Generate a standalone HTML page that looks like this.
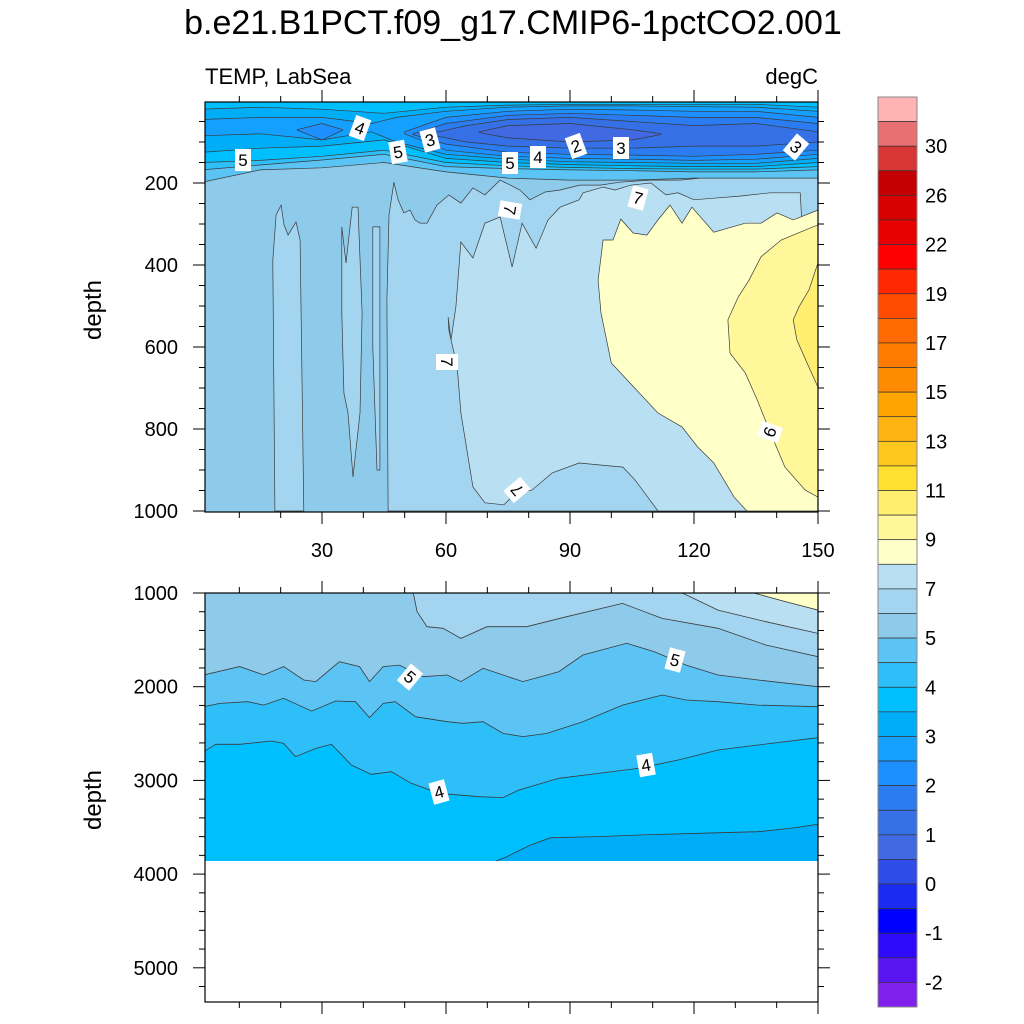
<!DOCTYPE html>
<html><head><meta charset="utf-8"><style>
html,body{margin:0;padding:0;background:#fff}
svg{display:block;font-family:"Liberation Sans",Arial,sans-serif}
</style></head><body>
<svg id="chart" width="1024" height="1024" viewBox="0 0 1024 1024" xmlns="http://www.w3.org/2000/svg">
<defs>
<clipPath id="clipTop"><rect x="205" y="102" width="613" height="410"/></clipPath>
<clipPath id="clipBot"><rect x="205" y="593" width="613" height="268"/></clipPath>
</defs>
<text x="513" y="34" text-anchor="middle" font-size="34">b.e21.B1PCT.f09_g17.CMIP6-1pctCO2.001</text>
<text x="205" y="84" font-size="22">TEMP, LabSea</text>
<text x="818" y="84" font-size="22" text-anchor="end">degC</text>
<text transform="translate(101,310) rotate(-90)" text-anchor="middle" font-size="24">depth</text>
<text transform="translate(101,800) rotate(-90)" text-anchor="middle" font-size="24">depth</text>
<g id="topPlot" clip-path="url(#clipTop)"></g>
<g id="botPlot" clip-path="url(#clipBot)"></g>
<g id="axes"></g>
<g id="labels"></g>
<g id="cbar"></g>
</svg>
<script>
// ---------- data ----------
const surfYears=[1,15,30,45,60,75,90,105,120,135,150];
const iso5Bottom=[198,168,163,150,173,188,193,193,188,188,188];
const iso45Bottom=[168,156,144,130,160,165,168,170,173,173,168];
const iso4Bottom=[150,145,135,120,150,158,162,165,166,166,160];
const iso35Top=[20,15,20,30,15,10,8,8,8,8,15];
const iso35Bottom=[125,115,110,95,140,150,155,158,160,160,150];
const iso3Years=[1,15,30,42,48,60,75,90,105,120,135,150];
const iso3Top=[45,40,40,55,40,25,15,12,12,14,15,25];
const iso3Bottom=[85,80,95,75,100,130,142,148,150,152,152,140];
const iso25aYears=[24,30,35];
const iso25aTop=[70,55,70];
const iso25aBottom=[71,95,71];
const iso25Years=[50,60,75,90,105,120,135,150];
const iso25Top=[75,40,25,20,22,25,25,40];
const iso25Bottom=[80,120,135,140,142,145,142,130];
const iso2Years=[52,60,75,90,105,120,135,150];
const iso2Top=[80,55,35,30,35,40,40,55];
const iso2Bottom=[82,105,125,130,132,135,130,120];
const iso15Years=[56,65,75,90,105,120,135,150];
const iso15Top=[80,60,45,40,50,60,55,75];
const iso15Bottom=[82,100,110,115,115,110,110,100];
const iso1Years=[68,75,90,105,112];
const iso1Top=[75,60,55,70,80];
const iso1Bottom=[77,90,100,95,82];

const strip1Years=[18.6,18.1,18.9,20.1,20.8,21.8,22.5,23.7,24.7,25.6];
const strip1Depths=[1000,388,278,254,302,327,315,295,339,1000];
const strip2Years=[34.8,35.8,37.3,38.7,39.7,39.2,37.5,36.3,35.3,34.8];
const strip2Depths=[307,395,259,259,517,761,917,761,712,517];
const strip3Years=[42.3,44,44,43.3,42.3];
const strip3Depths=[307,307,900,900,600];
const band6Years=[46,45.7,46.2,47.4,48.4,49.8,51.3,52.5,53.7,55.4,57.8,60.7,63.6,66.5,69.4,73.1,77.9,80.3,84,87.6,92.4,97.3,102.1,109.4,116.6,121.5,128.7,136,143.2,150,150];
const band6Depths=[1000,485,278,198,241,273,266,290,298,298,254,229,249,212,229,193,217,241,222,217,205,205,198,193,193,188,185,183,180,176,1000];
const band7Years=[111.3,105.7,102.8,92.2,85.7,80.8,76.9,74,69.4,66.5,63.6,62.7,60.7,60.5,61.2,62.4,63.6,66.5,69.4,73.1,76,78.4,81.8,84.7,87.6,92.2,93.2,98,100.9,104.8,109.6,113.2,116.1,120,124.8,131.1,138.4,145.7,150,150];
const band7Depths=[1000,924,893,883,907,949,956,985,980,941,761,649,559,527,583,502,344,383,298,283,405,298,359,290,259,241,224,210,217,205,200,229,224,241,237,232,224,224,1000,1000];
const band8Years=[150,144,140.1,136.2,132.4,124.8,119.5,117.1,114.2,111.3,108.6,105.3,102.3,100.4,98,96.8,97.5,100,103.8,111.3,117.1,120.9,124.8,129.7,132.8,150];
const band8Depths=[266,290,273,298,298,320,259,298,254,290,327,322,288,339,339,437,517,639,680,761,795,844,883,966,1000,1000];
const band9Years=[150,141.1,136.2,133.3,130.7,128.2,128.7,132.4,135.3,138.2,142,146.9,150];
const band9Depths=[302,339,380,437,478,534,615,663,729,802,893,949,966];
const band10Years=[150,147.8,145.4,144,144.9,147.8,150];
const band10Depths=[395,461,502,534,583,649,698];

const c6Years=[52.1,53,55.4,59.3,63.6,69.9,79.5,89.2,102.7,112.3,125.8,137.4,150];
const c6Depths=[1000,1200,1360,1377,1484,1360,1360,1253,1111,1271,1377,1555,1680];
const c7Years=[117.2,125.8,137.4,150];
const c7Depths=[1000,1182,1306,1431];
const c8Years=[134.5,142.2,150];
const c8Depths=[1000,1093,1182];
const c5Years=[1.4,10.1,15.9,20.7,25.6,28.5,34.2,39.1,41.5,44.8,48.7,54.5,60.3,63.6,69,73.8,78.6,87.3,93.1,103.7,110.4,118.1,125.8,135.5,150];
const c5Depths=[1875,1786,1875,1786,1929,1946,1733,1786,1946,1786,1769,1893,1875,1946,1804,1875,1946,1840,1662,1537,1626,1769,1875,1929,2000];
const c45Years=[1.4,5.3,12,15.9,20.7,27.5,33.3,38.1,41.5,44.8,47.7,52.6,60.3,64.1,69,73.8,78.6,84.4,93.1,102.7,112.3,118.1,125.8,135.5,150];
const c45Depths=[2213,2178,2160,2196,2124,2260,2153,2160,2331,2178,2160,2320,2373,2391,2373,2498,2533,2498,2373,2196,2089,2142,2160,2196,2213];
const c4Years=[1.4,4.3,10.1,17.8,20.7,23.6,28.5,32.3,37.1,41.9,46.8,51.6,58.3,68,73.8,77.6,87.3,96.9,106.6,116.2,125.8,135.5,150];
const c4Depths=[2694,2615,2615,2580,2605,2747,2658,2615,2836,2935,2907,3031,3138,3174,3184,3103,2978,2925,2871,2782,2676,2622,2544];
const c35Years=[71.8,74.7,80.5,85.3,96.9,106.6,121,135.5,143.2,150];
const c35Depths=[3867,3814,3689,3611,3600,3583,3565,3547,3512,3469];

const cbarColors=["#ffb3b3","#e87070","#d83535","#c40000","#d80000","#e80000","#ff0000","#ff2800","#ff4c00","#ff6a00","#ff7c00","#ff8c00","#ffa500","#ffb414","#ffc81e","#ffe030","#ffee70","#fff79a","#ffffc8","#b9e0f2","#a3d5f0","#8ecbeb","#5cc4f5","#2ebef8","#00bfff","#00aef8","#14a0ff","#1e8fff","#2a7cf0","#3570e6","#4169e1","#2d4ce8","#1a2cf2","#0000ff","#2e0af8","#5a14f0","#8020ec"];
const cbarLabels=["30","26","22","19","17","15","13","11","9","7","5","4","3","2","1","0","-1","-2"];
const xTickLabels=[30,60,90,120,150];
const topDepthTicks=[200,400,600,800,1000];
const botDepthTicks=[1000,2000,3000,4000,5000];

// ---------- scales ----------
const NS="http://www.w3.org/2000/svg";
const xS=y=>198+y*4.1333;
const yT=d=>101+d*0.41;
const yB=d=>593+(d-1000)*0.0937;
const LINE="#3a3a3a";
function mk(tag,attrs,parent){const e=document.createElementNS(NS,tag);for(const k in attrs)e.setAttribute(k,attrs[k]);parent.appendChild(e);return e;}
function pts(xs,ds,ys){return xs.map((x,i)=>xS(x).toFixed(1)+","+ys(ds[i]).toFixed(1));}

const topG=document.getElementById('topPlot');
const botG=document.getElementById('botPlot');

// ---- top panel ----
let r=mk('rect',{x:205,y:102,width:613,height:410,fill:'#8ecbeb'},topG);


function poly(g,xs,ds,ys,fill,name){
  const p=mk('polygon',{points:pts(xs,ds,ys).join(' '),fill:fill,stroke:LINE,'stroke-width':0.7},g);
  
  
}
poly(topG,strip1Years,strip1Depths,yT,'#a3d5f0','band-6-7-strip-1');
poly(topG,strip2Years,strip2Depths,yT,'#a3d5f0','band-6-7-strip-2');
poly(topG,strip3Years,strip3Depths,yT,'#a3d5f0','band-6-7-strip-3');
poly(topG,band6Years,band6Depths,yT,'#a3d5f0','band-6-7');
poly(topG,band7Years,band7Depths,yT,'#b9e0f2','band-7-8');
poly(topG,band8Years,band8Depths,yT,'#ffffc8','band-8-9');
poly(topG,band9Years,band9Depths,yT,'#fff79a','band-9-10');
poly(topG,band10Years,band10Depths,yT,'#ffee70','band-10-11');
function lens(years,top,bot,fill,name){
  const a=pts(years,top,yT), b=pts(years,bot,yT).reverse();
  const p=mk('polygon',{points:a.concat(b).join(' '),fill:fill,stroke:LINE,'stroke-width':0.7},topG);
  
  
}
const zeros=surfYears.map(()=>-5);
lens(surfYears,zeros,iso5Bottom,'#5cc4f5','band-4.5-5');
lens(surfYears,zeros,iso45Bottom,'#2ebef8','band-4-4.5');
lens(surfYears,zeros,iso4Bottom,'#00bfff','band-3.5-4');
lens(surfYears,iso35Top,iso35Bottom,'#00aef8','band-3-3.5');
lens(iso3Years,iso3Top,iso3Bottom,'#14a0ff','band-2.5-3');
lens(iso25aYears,iso25aTop,iso25aBottom,'#1e8fff','band-2-2.5-west');
lens(iso25Years,iso25Top,iso25Bottom,'#1e8fff','band-2-2.5');
lens(iso2Years,iso2Top,iso2Bottom,'#2a7cf0','band-1.5-2');
lens(iso15Years,iso15Top,iso15Bottom,'#3570e6','band-1-1.5');
lens(iso1Years,iso1Top,iso1Bottom,'#4169e1','band-0.5-1');

// ---- bottom panel ----
r=mk('rect',{x:205,y:593,width:613,height:268,fill:'#a3d5f0'},botG);


function region(xs,ds,extra,fill,name){
  const p=pts(xs,ds,yB);
  const e=extra.map(q=>xS(q[0]).toFixed(1)+","+yB(q[1]).toFixed(1));
  const pg=mk('polygon',{points:p.concat(e).join(' '),fill:fill,stroke:'none'},botG);
  
  
  const pl=mk('polyline',{points:p.join(' '),fill:'none',stroke:LINE,'stroke-width':0.8},botG);
  
  
}
region(c7Years,c7Depths,[[152,1431],[152,990]],'#b9e0f2','band-7-8');
region(c8Years,c8Depths,[[152,1182],[152,990]],'#ffffc8','band-8-9');
const pre6=mk('polygon',{points:[[0,990],[c6Years[0],990]].map(q=>xS(q[0])+","+yB(q[1])).join(' ')+" "+pts(c6Years,c6Depths,yB).join(' ')+" "+xS(152)+","+yB(3900)+" "+xS(0)+","+yB(3900),fill:'#8ecbeb'},botG);


let l6=mk('polyline',{points:pts(c6Years,c6Depths,yB).join(' '),fill:'none',stroke:LINE,'stroke-width':0.8},botG);


region(c5Years,c5Depths,[[152,c5Depths[c5Depths.length-1]],[152,3900],[0,3900],[0,c5Depths[0]]],'#5cc4f5','band-4.5-5');
region(c45Years,c45Depths,[[152,c45Depths[c45Depths.length-1]],[152,3900],[0,3900],[0,c45Depths[0]]],'#2ebef8','band-4-4.5');
region(c4Years,c4Depths,[[152,c4Depths[c4Depths.length-1]],[152,3900],[0,3900],[0,c4Depths[0]]],'#00bfff','band-3.5-4');
region(c35Years,c35Depths,[[152,c35Depths[c35Depths.length-1]],[152,3900],[c35Years[0],3900]],'#00aef8','band-3-3.5');

// ---- axes ----
const ax=document.getElementById('axes');
function frame(y0,y1,name){const f=mk('rect',{x:205,y:y0,width:613,height:y1-y0,fill:'none',stroke:'#000','stroke-width':1.2},ax);}
frame(102,512,'upper-plot-frame');
frame(593,1002,'lower-plot-frame');
function line(x1,y1,x2,y2){mk('line',{x1:x1,y1:y1,x2:x2,y2:y2,stroke:'#000','stroke-width':1},ax);}
[[102,512],[593,1002]].forEach(([t,b])=>{
  for(let yr=10;yr<=150;yr+=10){const x=xS(yr);const L=(yr%30===0)?12:6;line(x,t,x,t-L);line(x,b,x,b+L);}
});
xTickLabels.forEach(v=>{const t=mk('text',{x:xS(v),y:557,'text-anchor':'middle','font-size':20},ax);t.textContent=v;});
for(let d=50;d<=1000;d+=50){const y=yT(d);const L=(d%200===0)?12:6;line(205,y,205-L,y);line(818,y,818+L,y);}
topDepthTicks.forEach(v=>{const t=mk('text',{x:178,y:yT(v)+7,'text-anchor':'end','font-size':20},ax);t.textContent=v;});
for(let d=1000;d<=5300;d+=200){const y=yB(d);const L=(d%1000===0)?12:6;line(205,y,205-L,y);line(818,y,818+L,y);}
botDepthTicks.forEach(v=>{const t=mk('text',{x:178,y:yB(v)+7,'text-anchor':'end','font-size':20},ax);t.textContent=v;});

// ---- contour labels ----
const lab=document.getElementById('labels');
const labelList=[["4",360,128,20],["5",243,160,0],["5",398,152,-10],["3",430,140,-15],["5",510,163,0],["4",538,157,0],["2",576,146,-20],["3",621,148,0],["3",796,147,40],["7",510,210,100],["7",638,198,15],["7",447,362,90],["7",517,490,-130],["9",770,432,110],["5",410,677,40],["5",675,660,15],["4",439,792,-15],["4",646,765,-10]];
labelList.forEach(([s,x,y,a])=>{
  const g=mk('g',{transform:`translate(${x},${y}) rotate(${a})`},lab);
  
  
  mk('rect',{x:-8,y:-11,width:16,height:22,fill:'#fff'},g);
  const t=mk('text',{x:0,y:6,'text-anchor':'middle','font-size':17},g);t.textContent=s;
});

// ---- colorbar ----
const cb=document.getElementById('cbar');
const bh=910/cbarColors.length;
cbarColors.forEach((c,i)=>{const b=mk('rect',{x:878,y:97+i*bh,width:39,height:bh,fill:c,stroke:'#333','stroke-width':0.7},cb);});
mk('rect',{x:878,y:97,width:39,height:910,fill:'none',stroke:'#888','stroke-width':1},cb);
cbarLabels.forEach((s,i)=>{const t=mk('text',{x:925,y:97+(2+2*i)*bh+7,'font-size':20},cb);t.textContent=s;});
</script>
</body></html>
